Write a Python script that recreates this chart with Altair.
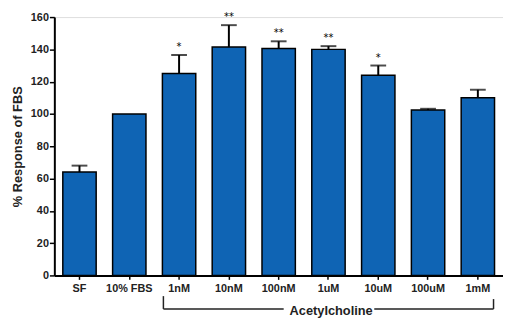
import altair as alt
import pandas as pd

categories = ["SF", "10% FBS", "1nM", "10nM", "100nM", "1uM", "10uM", "100uM", "1mM"]
means = [64, 100, 125, 141.5, 140.5, 140, 124, 102.5, 110]
errors = [4, 0, 11.5, 13.5, 4.5, 2, 6, 0.7, 5]
stars = ["", "", "*", "**", "**", "**", "*", "", ""]
y_ticks = [0, 20, 40, 60, 80, 100, 120, 140, 160]
y_title = "% Response of FBS"
bracket_start = "1nM"
bracket_gap_left = "100nM"
bracket_gap_right = "10uM"
bracket_center = "1uM"
bracket_end = "1mM"
bracket_label = "Acetylcholine"

df = pd.DataFrame({"cat": categories, "mean": means, "err": errors, "star": stars})
df["top"] = df["mean"] + df["err"]

FONT = "Liberation Sans"
BLUE = "#0F64B4"

xscale = alt.Scale(domain=categories, paddingInner=0.33, paddingOuter=0.17)
yscale = alt.Scale(domain=[0, 160], nice=False)

x_axis = alt.Axis(title=None, labelAngle=0, labelFont=FONT, labelFontWeight="bold",
                  labelFontSize=11, labelColor="#222", labelPadding=3,
                  domainColor="black", domainWidth=2, tickColor="black",
                  tickWidth=1.5, tickSize=4)
y_axis = alt.Axis(title=y_title, values=y_ticks, grid=False, labelOverlap=False,
                  labelFont=FONT, labelFontWeight="bold", labelFontSize=11,
                  labelColor="#222", labelPadding=1,
                  titleFont=FONT, titleFontWeight="bold", titleFontSize=13,
                  titleColor="#222", titlePadding=6,
                  domainColor="black", domainWidth=2, tickColor="black",
                  tickWidth=1.5, tickSize=5)


def X(field, bp=None):
    if bp is None:
        return alt.X(field, scale=xscale, sort=categories, axis=x_axis, title=None)
    return alt.X(field, scale=xscale, sort=categories, axis=x_axis, title=None, bandPosition=bp)


def Y(field):
    return alt.Y(field, scale=yscale, axis=y_axis, title=y_title)


bars = alt.Chart(df).mark_bar(color=BLUE, stroke="black", strokeWidth=1.5).encode(
    x=X("cat:N"), y=Y("mean:Q"))

err_df = df[df["err"] > 0]
err_rule = alt.Chart(err_df).mark_rule(color="black", strokeWidth=2).encode(
    x=X("cat:N"), y=Y("mean:Q"), y2="top:Q")
err_cap = alt.Chart(err_df).mark_tick(color="black", thickness=2, size=16, orient="horizontal").encode(
    x=X("cat:N"), y=Y("top:Q"))
star_txt = alt.Chart(df[df["star"] != ""]).mark_text(
    font="DejaVu Sans", fontSize=10, color="black", baseline="middle", dy=-8
).encode(x=X("cat:N"), y=Y("top:Q"), text="star:N")

bdf = pd.DataFrame({"a": [bracket_start], "g1": [bracket_gap_left], "g2": [bracket_gap_right],
                    "c": [bracket_center], "b": [bracket_end], "label": [bracket_label]})
BR = "#222"
v_left = alt.Chart(bdf).mark_rule(color=BR, strokeWidth=1.5).encode(
    x=X("a:N", 0.03), y=alt.value(283), y2=alt.value(296))
v_right = alt.Chart(bdf).mark_rule(color=BR, strokeWidth=1.5).encode(
    x=X("b:N", 0.97), y=alt.value(286), y2=alt.value(296))
h_left = alt.Chart(bdf).mark_rule(color=BR, strokeWidth=1.5).encode(
    x=X("a:N", 0.03), x2=alt.X2("g1:N", bandPosition=0.65), y=alt.value(296))
h_right = alt.Chart(bdf).mark_rule(color=BR, strokeWidth=1.5).encode(
    x=X("g2:N", 0.38), x2=alt.X2("b:N", bandPosition=0.97), y=alt.value(296))
label = alt.Chart(bdf).mark_text(font=FONT, fontWeight="bold", fontSize=13, color="#222",
                                 baseline="middle").encode(
    x=X("c:N", 0.58), y=alt.value(298), text="label:N")

chart = alt.layer(bars, err_rule, err_cap, star_txt, v_left, v_right, h_left, h_right, label).properties(
    width=455, height=262,
    autosize=alt.AutoSizeParams(type="none"),
    padding={"left": 47, "top": 7, "right": 0, "bottom": 43},
).configure_view(stroke=None).configure(background="white")

chart.save("out.html", embed_options={"renderer": "svg", "actions": False})
